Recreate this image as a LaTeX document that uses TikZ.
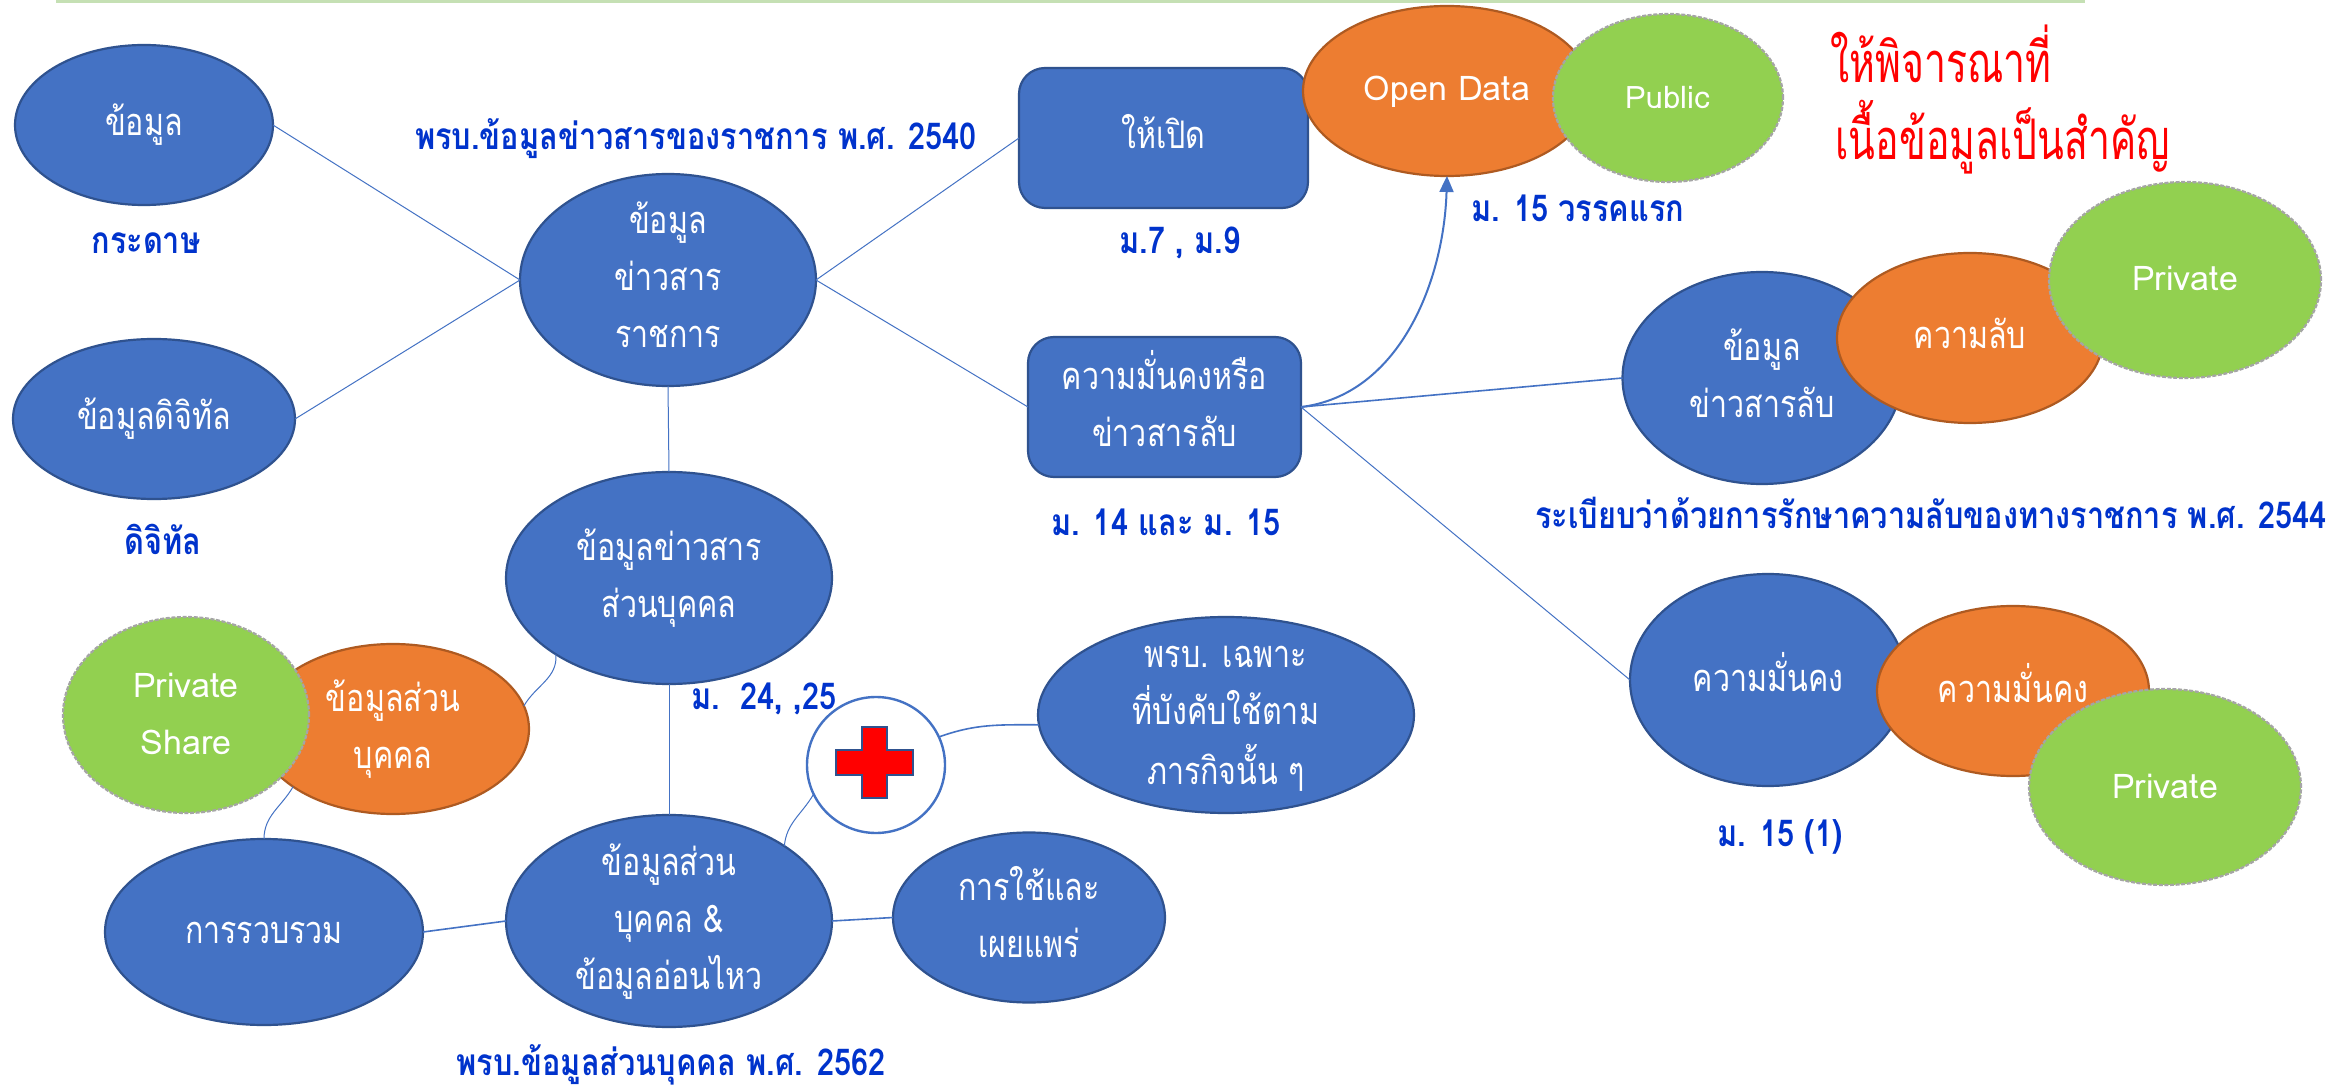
\documentclass[tikz,border=0pt]{standalone}
\usepackage{fontspec}
\usetikzlibrary{shapes.geometric,arrows.meta}
\setmainfont[Script=Thai,FakeStretch=0.8]{Loma}
\newfontfamily\latf[FakeStretch=1.0]{Loma}
\newfontfamily\redf[Script=Thai,FakeStretch=0.7]{Loma}
\newfontfamily\lblf[Script=Thai,FakeStretch=0.83]{Loma}
\newcommand{\ts}{\rule[-8.75pt]{0pt}{28.5pt}}
\definecolor{bfill}{HTML}{4472C4}
\definecolor{bline}{HTML}{2F528F}
\definecolor{ofill}{HTML}{ED7D31}
\definecolor{oline}{HTML}{AE5A21}
\definecolor{gfill}{HTML}{92D050}
\definecolor{gline}{HTML}{A5A5A5}
\definecolor{lblue}{HTML}{0033CC}
\definecolor{topbar}{HTML}{C5E0B4}
\tikzset{
  ell/.style={ellipse,inner sep=0pt,outer sep=0pt},
  blueell/.style={ell,fill=bfill,draw=bline,line width=1.1pt},
  orangeell/.style={ell,fill=ofill,draw=oline,line width=1.1pt},
  greenell/.style={ell,fill=gfill,draw=gline,line width=1.1pt,dash pattern=on 2pt off 0.8pt},
  plusell/.style={ell,fill=white,draw=bfill,line width=1.2pt},
  boxnode/.style={rectangle,rounded corners=13pt,inner sep=0pt,outer sep=0pt,fill=bfill,draw=bline,line width=1.1pt},
  intext/.style={font=\fontsize{19}{28.5}\selectfont,text=white,align=center,inner sep=0pt},
  lattext/.style={font=\latf\fontsize{17}{28.5}\selectfont,text=white,align=center,inner sep=0pt},
  lbl/.style={font=\lblf\fontsize{18.5}{28.5}\selectfont\bfseries,text=lblue,align=center,inner sep=0pt},
  redtext/.style={font=\redf\fontsize{28}{28}\selectfont,text=red,anchor=base west,inner sep=0pt},
  conn/.style={draw=bfill,line width=0.5pt},
}
\begin{document}
\begin{tikzpicture}[x=0.5pt,y=-0.5pt]
\useasboundingbox (0,0) rectangle (2336,1085);
\fill[white] (0,0) rectangle (2336,1085);
\fill[topbar] (56,0) rectangle (2085,3);

% blue, orange and green ellipses
\node[blueell,minimum width=129pt,minimum height=80pt] (data) at (144,125) {};
\node[intext] (datat) at (data.center) {\ts ข้อมูล};
\node[blueell,minimum width=141pt,minimum height=80pt] (digi) at (154,419) {};
\node[intext] (digit) at (digi.center) {\ts ข้อมูลดิจิทัล};
\node[blueell,minimum width=148pt,minimum height=106pt] (gov) at (668,280) {};
\node[intext] (govt) at (gov.center) {\ts ข้อมูล\\\ts ข่าวสาร\\\ts ราชการ};
\node[blueell,minimum width=163pt,minimum height=106pt] (pers) at (669,578) {};
\node[intext] (perst) at (pers.center) {\ts ข้อมูลข่าวสาร\\\ts ส่วนบุคคล};

\node[boxnode,minimum width=144.5pt,minimum height=70pt] (open) at (1163.5,138) {};
\node[intext] (opent) at (open.center) {\ts ให้เปิด};
\node[boxnode,minimum width=136.5pt,minimum height=70pt] (sec) at (1164.5,407) {};
\node[intext] (sect) at (sec.center) {\ts ความมั่นคงหรือ\\\ts ข่าวสารลับ};

\node[orangeell,minimum width=144pt,minimum height=85pt] (odata) at (1447,91) {};
\node[lattext] (odatat) at ([yshift=0.75pt]odata.center) {\ts Open Data};
\node[greenell,minimum width=115pt,minimum height=84pt] (pub) at (1668,98) {};
\node[lattext,font=\latf\fontsize{15.5}{28.5}\selectfont] (pubt) at (pub.center) {\ts Public};

\node[blueell,minimum width=139.5pt,minimum height=106pt] (secret) at (1762,378) {};
\node[intext] (secrett) at (secret.center) {\ts ข้อมูล\\\ts ข่าวสารลับ};
\node[orangeell,minimum width=133pt,minimum height=85pt] (conf) at (1970,338) {};
\node[intext] (conft) at (conf.center) {\ts ความลับ};
\node[greenell,minimum width=136pt,minimum height=98pt] (priv1) at (2185,280) {};
\node[lattext] (priv1t) at (priv1.center) {\ts Private};

\node[blueell,minimum width=138pt,minimum height=106pt] (secur) at (1768,680) {};
\node[intext] (secut) at (secur.center) {\ts ความมั่นคง};
\node[orangeell,minimum width=136pt,minimum height=85pt] (secor) at (2013,691) {};
\node[intext] (secort) at (secor.center) {\ts ความมั่นคง};
\node[greenell,minimum width=136pt,minimum height=98pt] (priv2) at (2165,787) {};
\node[lattext] (priv2t) at (priv2.center) {\ts Private};

\node[orangeell,minimum width=136pt,minimum height=85pt] (perso) at (393,729) {};
\node[intext] (persot) at (perso.center) {\ts ข้อมูลส่วน\\\ts บุคคล};
\node[greenell,minimum width=123pt,minimum height=98pt] (share) at (186,715) {};
\node[lattext] (sharet) at (share.center) {\ts Private\\\ts Share};

\node[blueell,minimum width=159pt,minimum height=93pt] (coll) at (264,932) {};
\node[intext] (collt) at (coll.center) {\ts การรวบรวม};
\node[blueell,minimum width=163pt,minimum height=106pt] (sens) at (669,921) {};
\node[intext] (senst) at (sens.center) {\ts ข้อมูลส่วน\\\ts บุคคล \&\\\ts ข้อมูลอ่อนไหว};
\node[blueell,minimum width=136pt,minimum height=85pt] (use) at (1029,917.5) {};
\node[intext] (uset) at (use.center) {\ts การใช้และ\\\ts เผยแพร่};
\node[blueell,minimum width=188pt,minimum height=98pt] (act) at (1226,715) {};
\node[intext] (actt) at (act.center) {\ts พรบ. เฉพาะ\\\ts ที่บังคับใช้ตาม\\\ts ภารกิจนั้น ๆ};
\node[plusell,minimum width=69pt,minimum height=68pt] (plus) at (876,765) {};

% red cross
\draw[fill=red,draw=bline,line width=1pt]
  (862,727) -- (887,727) -- (887,750) -- (913,750) -- (913,775) -- (887,775)
  -- (887,798) -- (862,798) -- (862,775) -- (836,775) -- (836,750) -- (862,750) -- cycle;

% connectors
\draw[conn] (data.east) -- (gov.west);
\draw[conn] (digi.east) -- (gov.west);
\draw[conn] (gov.east) -- (open.west);
\draw[conn] (gov.east) -- (sec.west);
\draw[conn] (gov.south) -- (pers.north);
\draw[conn] (pers.south) -- (sens.north);
\draw[conn,line width=0.8pt] (sec.east) -- (secret.west);
\draw[conn] (sec.east) -- (secur.west);
\draw[conn,line width=0.8pt] (coll.east) -- (sens.west);
\draw[conn,line width=0.8pt] (sens.east) -- (use.west);
\draw[conn] (pers.214) to[out=-85,in=60] (perso.10);
\draw[conn] (perso.210) to[out=240,in=90] (coll.north);
\draw[conn] (sens.33.5) to[out=85,in=240] (plus.205);
\draw[conn,line width=0.8pt] (plus.24) to[out=20,in=180] (act.183);
\draw[draw=bfill,line width=1pt,-{Triangle[length=8pt,width=7pt]}]
  (sec.east) .. controls (1400,395) and (1444,280) .. (odata.south);

% labels
\node[lbl] (l1) at (696,139) {\ts พรบ.ข้อมูลข่าวสารของราชการ พ.ศ. 2540};
\node[lbl] (l2) at (146,243) {\ts กระดาษ};
\node[lbl] (l3) at (163,544) {\ts ดิจิทัล};
\node[lbl] (l4) at (1180,243) {\ts ม.7 , ม.9};
\node[lbl] (l5) at (1166,525) {\ts ม. 14 และ ม. 15};
\node[lbl] (l6) at (1578,211) {\ts ม. 15 วรรคแรก};
\node[lbl] (l7) at (1931,518) {\ts ระเบียบว่าด้วยการรักษาความลับของทางราชการ พ.ศ. 2544};
\node[lbl] (l8) at (764,698) {\ts ม.~~24, ,25};
\node[lbl] (l9) at (1780,835) {\ts ม. 15 (1)};
\node[lbl] (l10) at (671,1064) {\ts พรบ.ข้อมูลส่วนบุคคล พ.ศ. 2562};
\node[redtext] (r1) at (1830,83) {ให้พิจารณาที่};
\node[redtext] (r2) at (1835,160) {เนื้อข้อมูลเป็นสำคัญ};
\end{tikzpicture}
\end{document}
